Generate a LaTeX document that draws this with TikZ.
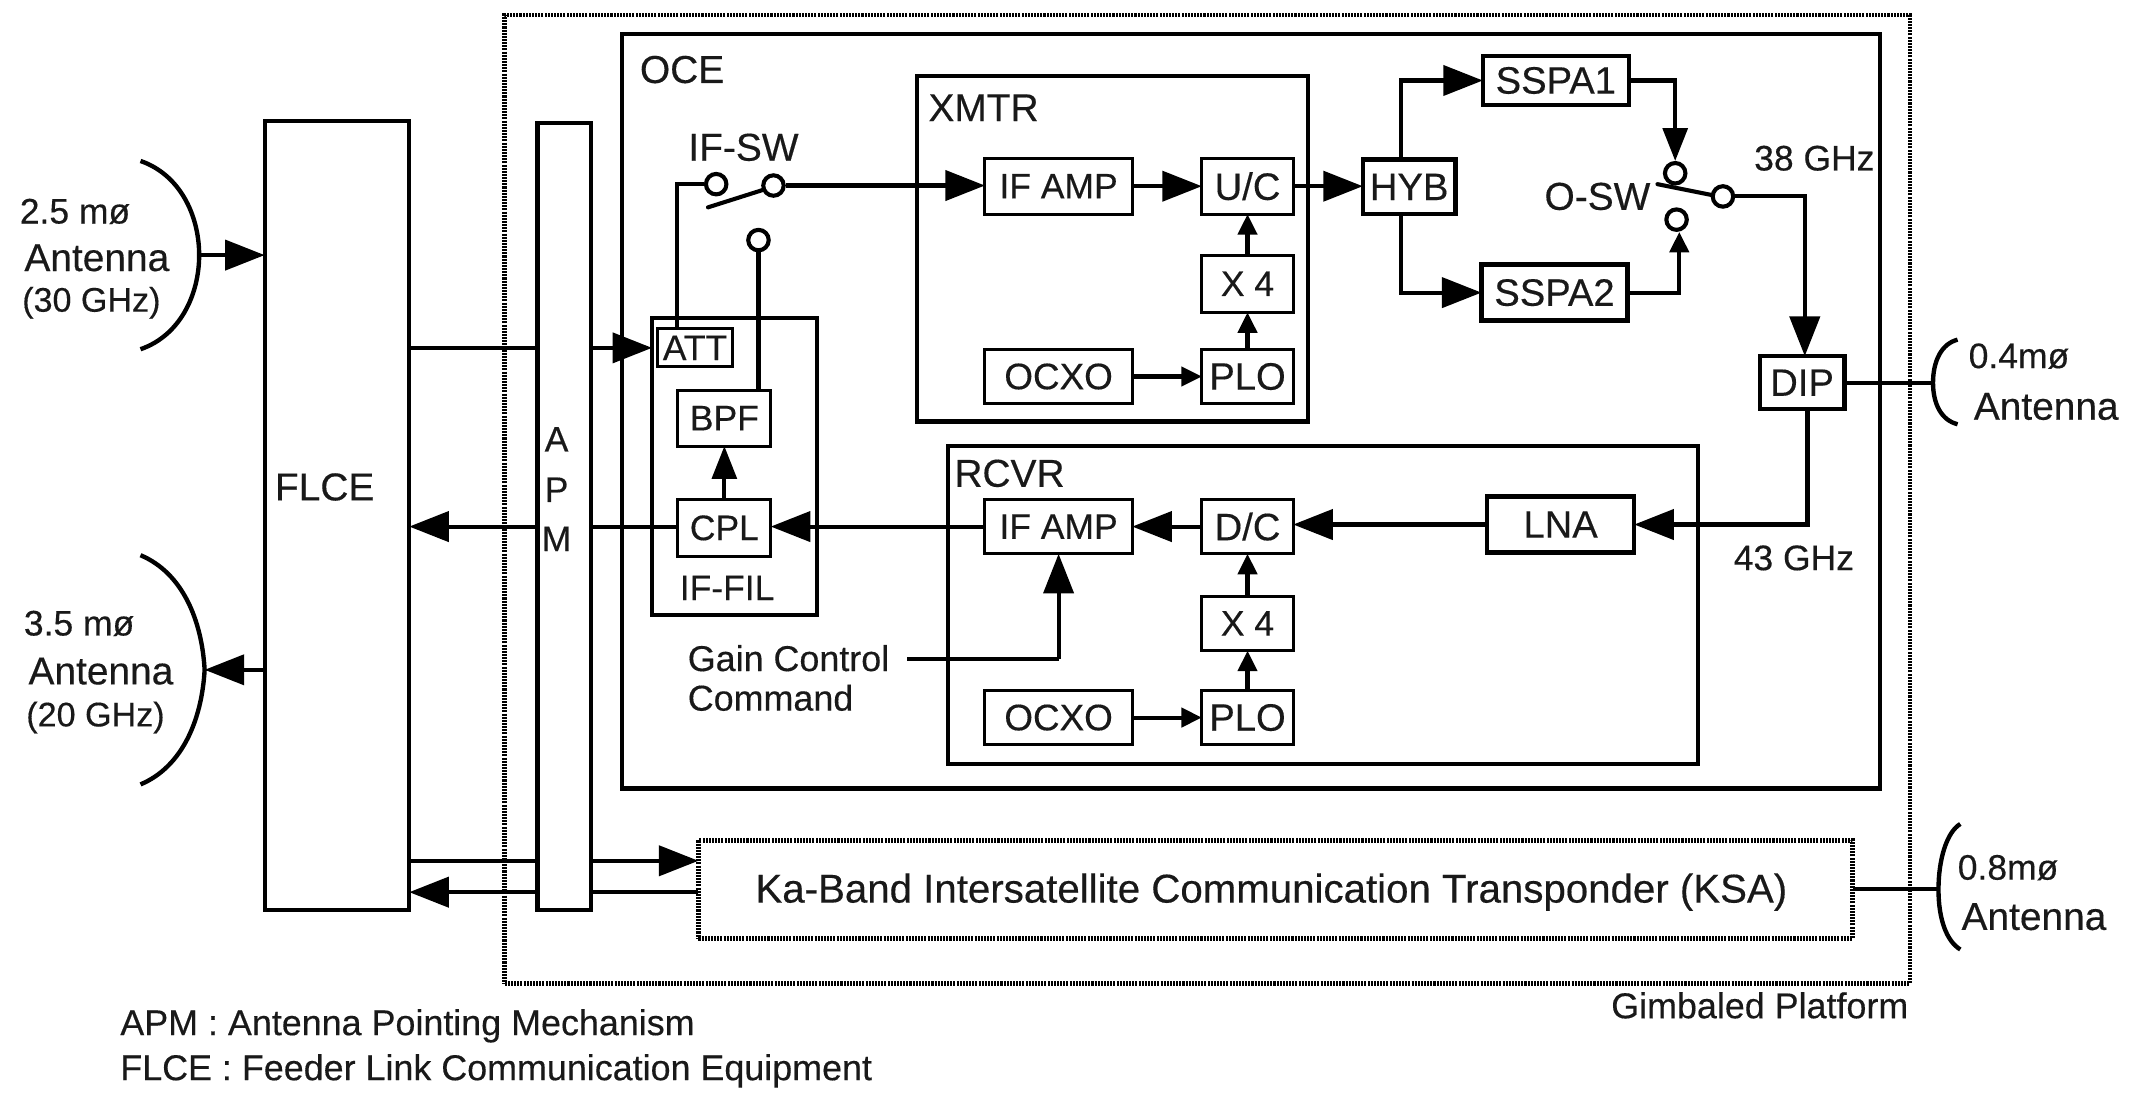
\documentclass[tikz,border=0pt]{standalone}
\usepackage{fontspec}
\setmainfont{Liberation Sans}[FakeBold=0.35]
\usetikzlibrary{arrows.meta,calc}
\tikzset{
  lbl/.style={inner sep=0pt,font=\fontsize{28.5}{32}\selectfont,text=black!90},
  tight/.style={font=\fontsize{26}{30}\selectfont},
  boxn/.style={draw,fill=white,line width=2.2pt,inner sep=0pt,font=\fontsize{28}{32}\selectfont,text=black!90},
  thickbox/.style={boxn,line width=3.2pt},
  frame/.style={draw,line width=3pt,inner sep=0pt},
  dotframe/.style={draw,line width=3.4pt,inner sep=0pt,dash pattern=on 1.5pt off 0.8pt},
  term/.style={circle,draw,fill=white,line width=3pt,minimum size=15pt,inner sep=0pt},
  wire/.style={line width=3pt},
  big/.style={wire,-{Triangle[length=29pt,width=22pt]}},
  mid/.style={wire,-{Triangle[length=24pt,width=18pt]}},
  small/.style={wire,-{Triangle[length=15pt,width=14pt]}},
  smalltxt/.style={lbl,font=\fontsize{26}{30}\selectfont},
  note/.style={lbl,font=\fontsize{26.3}{30}\selectfont},
  dish/.style={line width=3.2pt},
}
\newcommand{\bx}[7][boxn]{\node[#1,outer sep=0pt,minimum width=#4pt-#2pt,minimum height=#5pt-#3pt,anchor=north west] (#6) at (#2,#3) {#7};}
\begin{document}
\begin{tikzpicture}[x=1pt,y=-1pt]
\useasboundingbox (0,0) rectangle (1568,803.4);
% frames
\bx[dotframe]{370}{11}{1400}{721}{gimbal}{}
\bx[frame,line width=3.4pt]{456}{25}{1378}{578}{oce}{}
\bx[frame]{672}{56}{959}{309}{xmtr}{}
\bx[frame]{695}{327}{1245}{560}{rcvr}{}
\bx[frame]{478}{233}{599}{451}{iffil}{}
% labels of frames
\node[lbl] (ocelbl) at (500,51) {OCE};
\node[lbl] (xmtrlbl) at (721,79) {XMTR};
\node[lbl] (rcvrlbl) at (740,347) {RCVR};
\node[lbl,tight] (iffillbl) at (533,431) {IF-FIL};
\node[lbl] (ifswlbl) at (545,108) {IF-SW};
\node[lbl] (oswlbl) at (1171,144) {O-SW};
\node[lbl,tight] (ghz38) at (1330,116) {38 GHz};
\node[lbl,tight] (ghz43) at (1315,409) {43 GHz};
% blocks
\bx[boxn,tight]{482}{241}{537}{269}{att}{ATT}
\bx[boxn,tight]{497}{286}{565}{327}{bpf}{BPF}
\bx[boxn,tight]{497}{366}{565}{408}{cpl}{CPL}
\bx[boxn,tight]{722}{116}{830}{157}{ifampx}{IF AMP}
\bx{881}{116}{948}{157}{uc}{U/C}
\bx[boxn,tight]{881}{187}{948}{229}{xfourt}{X 4}
\bx{881}{256}{948}{296}{plot}{PLO}
\bx[boxn,font=\fontsize{27}{30}\selectfont]{722}{256}{830}{296}{ocxot}{OCXO}
\bx[thickbox]{999}{117}{1067}{157}{hyb}{HYB}
\bx[thickbox]{1087}{41}{1194}{77}{sspaa}{SSPA1}
\bx[thickbox]{1086}{194}{1193}{235}{sspab}{SSPA2}
\bx[thickbox]{1290}{261}{1352}{300}{dip}{DIP}
\bx[thickbox]{1090}{364}{1198}{405}{lna}{LNA}
\bx{881}{366}{948}{406}{dc}{D/C}
\bx[boxn,tight]{722}{366}{830}{406}{ifampr}{IF AMP}
\bx[boxn,tight]{881}{437}{948}{477}{xfourr}{X 4}
\bx{881}{506}{948}{546}{plor}{PLO}
\bx[boxn,font=\fontsize{27}{30}\selectfont]{722}{506}{830}{546}{ocxor}{OCXO}
\bx[frame,fill=white]{194}{89}{300}{667}{flce}{}
\node[lbl] (flcelbl) at (238,357) {FLCE};
% terminals
\node[term] (swa) at (525,135) {};
\node[term] (swb) at (567,136) {};
\node[term] (swc) at (556,176) {};
\node[term] (ota) at (1228,127) {};
\node[term] (otb) at (1229,161) {};
\node[term] (otc) at (1263,144) {};
% coordinates
\coordinate (wiref) at (496,135);
\coordinate (hybx) at (1027,136);
\coordinate (dipx) at (1325,300);
\coordinate (gainend) at (665,483);
\coordinate (gainx) at (776,483);
\coordinate (antone) at (146,187);
\coordinate (anttwo) at (150,491);
\coordinate (antthr) at (1417,280.5);
\coordinate (antfou) at (1421,652);
\coordinate (bladea) at (519,152);
\coordinate (bladeb) at (560,139);
\coordinate (bladec) at (1215,135);
\coordinate (bladed) at (1255,143);
\coordinate (ksaon) at (300,631);
\coordinate (ksatw) at (510,654);
% KSA
\bx[boxn,dotframe,fill=white]{512}{616}{1358}{688}{ksa}{}
\node[lbl,font=\fontsize{29.5}{32}\selectfont] (ksalbl) at (932,654) {Ka-Band Intersatellite Communication Transponder (KSA)};
% wires
\draw[wire] (att.north -| wiref) -- (wiref) -- (swa.west);
\draw[wire,line cap=round] (bladea) -- (bladeb);
\draw[wire,line cap=round] (bladec) -- (bladed);
\draw[wire] (bpf.north -| swc) -- (swc.south);
\draw[big] (swb.east) -- (ifampx.west |- swb.east);
\draw[mid] (cpl.north) -- (bpf.south);
\draw[big] (ifampx.east) -- (uc.west);
\draw[big] (uc.east) -- (hyb.west |- uc.east);
\draw[small] (xfourt.north) -- (uc.south);
\draw[small] (plot.north) -- (xfourt.south);
\draw[small] (ocxot.east) -- (plot.west);
\draw[big] (hyb.north -| hybx) |- (sspaa.west);
\draw[big] (hyb.south -| hybx) |- (sspab.west);
\draw[mid] (sspaa.east) -| (ota.north);
\draw[small] (sspab.east) -| ([xshift=2pt]otb.south);
\draw[wire] (otc.east) -| ($(otc)+(60,10)$);
\draw[big] ($(otc)+(60,0)$) -- (dip.north -| {$(otc)+(60,0)$});
\draw[wire] (dip.east) -- (antthr);
\draw[wire] (dipx) |- ($(lna.east)+(40,0)$);
\draw[big] ($(lna.east)+(40,0)$) -- (lna.east);
\draw[big] (lna.west) -- (dc.east |- lna.west);
\draw[big] (dc.west) -- (ifampr.east);
\draw[big] (ifampr.west) -- (cpl.east |- ifampr.west);
\draw[small] (xfourr.north) -- (dc.south);
\draw[small] (plor.north) -- (xfourr.south);
\draw[small] (ocxor.east) -- (plor.west);
\draw[wire] (gainend) -- (gainx);
\draw[big] (gainx) -- (ifampr.south -| gainx);
\draw[big] (flce.east |- att) -- (iffil.west |- att);
\draw[big] (cpl.west |- ifampr.west) -- (flce.east |- ifampr.west);
\draw[big] (flce.east |- ksaon) -- (ksa.west |- ksaon);
\draw[big] (ksa.west |- ksatw) -- (flce.east |- ksatw);
\draw[big] (antone) -- (flce.west |- antone);
\draw[big] (flce.west |- anttwo) -- (anttwo);
\draw[wire] (ksa.east |- antfou) -- (antfou);
% APM on top of wires
\bx[frame,fill=white]{394}{90}{433}{667}{apm}{}
\node[lbl,tight] (apma) at (408,322) {A};
\node[lbl,tight] (apmp) at (408,359) {P};
\node[lbl,tight] (apmm) at (408,395) {M};
% antennas
\draw[dish] (103,118) .. controls (132,128) and (146,158) .. (antone) .. controls (146,216) and (132,246) .. (103,256);
\draw[dish] (103,407) .. controls (134,420) and (148,455) .. (anttwo) .. controls (148,527) and (134,562) .. (103,575);
\draw[dish] (1435,249) .. controls (1423,252) and (1417,265) .. (antthr) .. controls (1417,296) and (1423,308) .. (1435,311);
\draw[dish] (1437,604) .. controls (1427,610) and (1421,630) .. (antfou) .. controls (1421,674) and (1427,690) .. (1437,696);
% antenna labels
\node[smalltxt] (lone) at (55,155) {2.5 mø};
\node[lbl] (ltwo) at (71,189) {Antenna};
\node[smalltxt,font=\fontsize{25}{30}\selectfont] (lthr) at (67,222) {(30 GHz)};
\node[smalltxt] (lfou) at (58,457) {3.5 mø};
\node[lbl] (lfiv) at (74,492) {Antenna};
\node[smalltxt,font=\fontsize{25}{30}\selectfont] (lsix) at (70,526) {(20 GHz)};
\node[smalltxt] (lsev) at (1480,261) {0.4mø};
\node[lbl] (leig) at (1500,298) {Antenna};
\node[smalltxt] (lnin) at (1472,636) {0.8mø};
\node[lbl] (lten) at (1491,672) {Antenna};
\node[note,anchor=west,align=left] (gain) at (504,497) {Gain Control\\[-1pt]Command};
\node[note] (gimb) at (1290,737) {Gimbaled Platform};
\node[note,anchor=west] (lega) at (88,752) {APM : Antenna Pointing Mechanism};
\node[note,anchor=west] (legb) at (88,785) {FLCE : Feeder Link Communication Equipment};
\end{tikzpicture}
\end{document}
